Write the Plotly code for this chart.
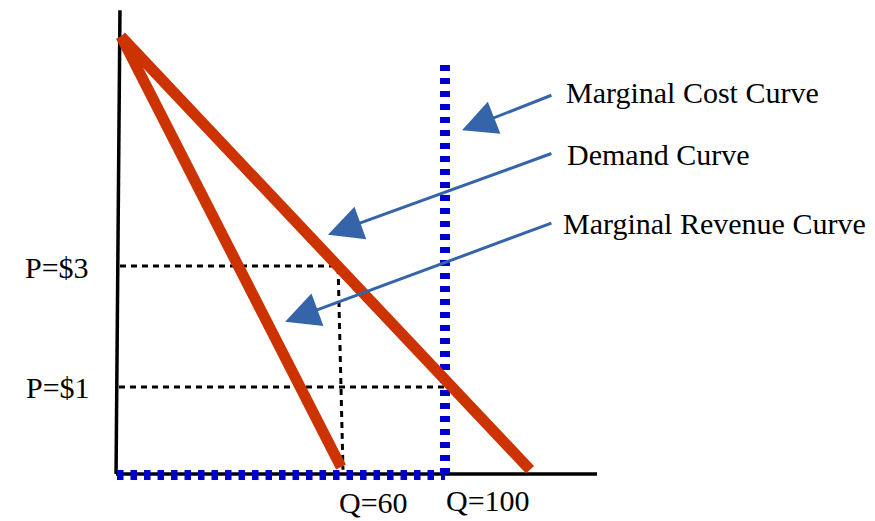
import plotly.graph_objects as go

# ---- schematic data (Q on x, P on y) ----
axis_y_q = [0.6, -0.6]
axis_y_p = [5.33, 0.0]
axis_x_q = [-0.6, 146.5]
axis_x_p = [0.0, 0.0]

demand_q = [0.9, 126.0]
demand_p = [5.03, 0.05]
mr_q = [0.9, 68.2]
mr_p = [5.03, 0.08]

mc_q = [100.0, 100.0]
mc_p = [0.0, 4.76]
mc_base_q = [-0.3, 100.0]
mc_base_p = [-0.01, -0.01]

p3_q = [0.6, 67.3, 68.8]
p3_p = [2.39, 2.39, 0.05]
p1_q = [0.3, 100.0]
p1_p = [1.0, 1.0]

price_labels = ["P=$3", "P=$1"]
price_label_q = [-8.3, -7.9]
price_label_p = [2.37, 1.0]
qty_labels = ["Q=60", "Q=100"]
qty_label_q = [78.0, 113.0]
qty_label_p = [-0.33, -0.30]

curve_labels = ["Marginal Cost Curve", "Demand Curve", "Marginal Revenue Curve"]
curve_label_q = [136.4, 136.7, 135.6]
curve_label_p = [4.38, 3.67, 2.88]
arrow_tail_q = [133.0, 133.0, 133.0]
arrow_tail_p = [4.36, 3.69, 2.89]
arrow_tip_q = [105.2, 64.2, 51.1]
arrow_tip_p = [3.95, 2.75, 1.75]

RED = "#CC3300"
BLUE = "#0000CC"
ARROW = "#3565A8"
FONT = "Liberation Serif"
FS = 30

fig = go.Figure()


def line(q, p, color, width, dash="solid"):
    fig.add_trace(go.Scatter(x=q, y=p, mode="lines",
                             line=dict(color=color, width=width, dash=dash),
                             hoverinfo="skip", showlegend=False))


line(axis_y_q, axis_y_p, "black", 3.5)
line(axis_x_q, axis_x_p, "black", 3.5)
line(p3_q, p3_p, "black", 3, "6px,5px")
line(p1_q, p1_p, "black", 3, "6px,5px")
line(mc_base_q, mc_base_p, BLUE, 10, "6.5px,7px")
line(mc_q, mc_p, BLUE, 10, "6px,7px")
line(mr_q, mr_p, RED, 11)
line(demand_q, demand_p, RED, 11)

annotations = []
for txt, q, p in zip(price_labels, price_label_q, price_label_p):
    annotations.append(dict(x=q, y=p, text=txt, showarrow=False, xanchor="right",
                            yanchor="middle", font=dict(family=FONT, size=FS, color="black")))
for txt, q, p in zip(qty_labels, qty_label_q, qty_label_p):
    annotations.append(dict(x=q, y=p, text=txt, showarrow=False, xanchor="center",
                            yanchor="middle", font=dict(family=FONT, size=FS, color="black")))
for txt, q, p in zip(curve_labels, curve_label_q, curve_label_p):
    annotations.append(dict(x=q, y=p, text=txt, showarrow=False, xanchor="left",
                            yanchor="middle", font=dict(family=FONT, size=FS, color="black")))
for tq, tp, hq, hp in zip(arrow_tail_q, arrow_tail_p, arrow_tip_q, arrow_tip_p):
    annotations.append(dict(x=hq, y=hp, ax=tq, ay=tp, axref="x", ayref="y",
                            xref="x", yref="y", text="", showarrow=True,
                            arrowhead=2, arrowsize=2.3, arrowwidth=3,
                            arrowcolor=ARROW, standoff=0))

# page body has an 8px margin, so the figure is 8px smaller than the window
fig.update_layout(
    width=867, height=513, autosize=False,
    margin=dict(l=0, r=0, t=0, b=0),
    paper_bgcolor="white", plot_bgcolor="white",
    xaxis=dict(range=[-33.64, 231.5], visible=False, fixedrange=True),
    yaxis=dict(range=[-0.540, 5.356], visible=False, fixedrange=True),
    annotations=annotations,
    showlegend=False,
)

fig.write_html("out.html")
